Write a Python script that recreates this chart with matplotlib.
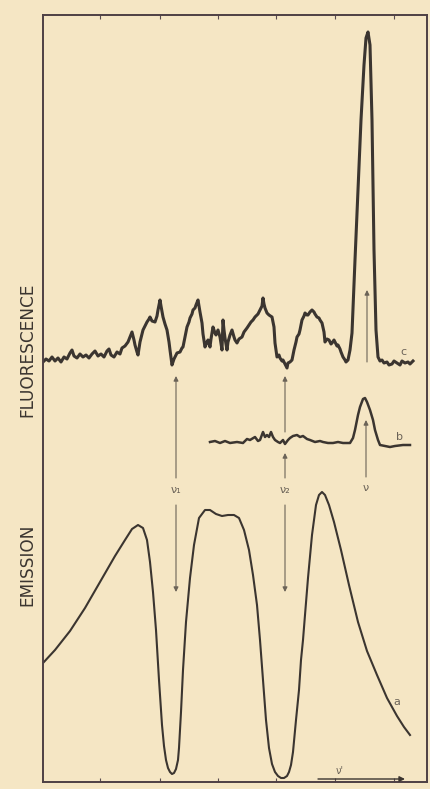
import matplotlib.pyplot as plt

# wavenumber axis (arbitrary units) and signal heights
c_x = [43, 46, 49, 52, 55, 58, 61, 64, 67, 70, 72, 74, 77, 80, 83, 86, 89, 92, 95, 98,
       101, 104, 107, 109, 111, 114, 117, 120, 122, 125, 128, 130, 132, 134, 135, 137,
       138, 140, 143, 145, 147, 149, 150, 152, 155, 157, 158, 160, 161, 163, 165, 167,
       169, 170, 172, 174, 175, 177, 180, 182, 183, 185, 187, 189, 190, 192, 193, 195,
       196, 198, 199, 200, 202, 203, 205, 207, 208, 210, 211, 213, 215, 216, 218, 220,
       222, 223, 224, 225, 227, 228, 230, 232, 234, 235, 237, 239, 242, 244, 247, 249,
       251, 253, 255, 258, 260, 262, 263, 264, 265, 267, 269, 272, 274, 275, 277, 279,
       280, 282, 283, 285, 287, 288, 290, 292, 294, 296, 297, 299, 300, 302, 304, 305,
       307, 308, 310, 312, 314, 315, 317, 319, 320, 322, 324, 325, 327, 329, 331, 332,
       334, 335, 337, 338, 340, 341, 343, 345, 346, 348, 350, 352, 355, 358, 361, 364,
       366, 368, 370, 372, 374, 376, 378, 380, 382, 384, 387, 389, 392, 394, 397, 400,
       402, 405, 408, 410, 413]
c_y = [420, 423, 421, 425, 421, 424, 420, 425, 423, 429, 432, 426, 424, 428, 425, 427,
       424, 428, 431, 426, 428, 425, 431, 433, 427, 425, 430, 428, 434, 436, 440, 445,
       450, 442, 437, 430, 427, 440, 452, 456, 460, 463, 465, 461, 460, 466, 472, 482,
       476, 465, 458, 452, 440, 432, 417, 423, 425, 429, 430, 434, 435, 445, 455, 460,
       464, 468, 472, 474, 477, 482, 476, 470, 459, 448, 435, 440, 442, 435, 443, 455,
       449, 447, 452, 445, 432, 462, 452, 444, 432, 440, 447, 452, 445, 442, 439, 443,
       445, 450, 454, 457, 460, 462, 465, 468, 472, 476, 484, 478, 474, 469, 467, 465,
       455, 439, 425, 427, 424, 421, 422, 418, 414, 419, 420, 422, 432, 440, 445, 448,
       452, 462, 466, 469, 467, 467, 470, 472, 470, 468, 465, 464, 462, 459, 450, 440,
       443, 442, 438, 439, 442, 440, 436, 437, 433, 430, 425, 422, 420, 422, 432, 449,
       522, 592, 662, 717, 744, 750, 737, 662, 532, 452, 425, 421, 422, 419, 420, 417,
       418, 421, 419, 417, 421, 419, 420, 418, 421]

b_x = [210, 215, 220, 225, 230, 237, 243, 247, 250, 255, 258, 260, 263, 265, 267, 269, 271,
       273, 275, 278, 280, 283, 285, 288, 290, 293, 297, 300, 303, 307, 310, 315, 320, 323,
       328, 333, 338, 343, 350, 353, 355, 358, 360, 363, 365, 367, 370, 373, 375, 378, 380,
       385, 390, 395, 403, 410]
b_y = [340, 341, 339, 341, 339, 340, 339, 343, 342, 345, 341, 342, 350, 345, 347, 345, 350,
       345, 342, 340, 339, 342, 338, 342, 344, 346, 347, 345, 346, 343, 342, 340, 341, 340,
       339, 339, 340, 339, 339, 344, 352, 367, 375, 383, 384, 380, 372, 362, 352, 342, 337,
       336, 335, 336, 337, 337]

a_x = [43, 55, 70, 85, 100, 115, 125, 132, 138, 143, 147, 150, 153, 156, 159, 162, 164,
       166, 168, 170, 172, 174, 176, 178, 179, 181, 183, 186, 190, 194, 199, 205, 210, 216,
       222, 228, 234, 239, 244, 249, 253, 257, 260, 263, 266, 269, 272, 275, 278, 281, 284,
       287, 289, 291, 293, 296, 299, 301, 303, 305, 308, 312, 316, 319, 322, 325, 329, 334,
       341, 349, 358, 367, 377, 387, 397, 404, 410]
a_y = [119, 132, 151, 174, 200, 226, 242, 253, 257, 254, 242, 220, 190, 152, 102, 57, 36,
       22, 14, 10, 8, 9, 13, 22, 34, 70, 112, 160, 204, 237, 264, 272, 272, 268,
       266, 267, 267, 264, 252, 232, 207, 177, 142, 102, 62, 34, 18, 10, 6, 4, 4,
       6, 10, 17, 30, 62, 92, 122, 142, 167, 204, 247, 277, 287, 290, 287, 277, 260,
       232, 197, 160, 131, 107, 84, 66, 55, 47]

# transition positions (nu1, nu2, nu)
nu_x = [176, 285, 366]
nu_labels = ['ν₁', 'ν₂', 'ν']
top_ticks = [100, 160, 218, 276, 335, 394]

paper = '#f5e6c4'
ink = '#3b3530'
thin = '#6b6358'

fig = plt.figure(figsize=(4.31, 7.89), dpi=100, facecolor=paper)
ax = fig.add_axes([43 / 431, 7 / 789, 384 / 431, 767 / 789], facecolor=paper)

ax.plot(c_x, c_y, color=ink, lw=2.2)
ax.plot(b_x, b_y, color=ink, lw=1.8)
ax.plot(a_x, a_y, color=ink, lw=1.5)

ax.text(403, 430, 'c', fontsize=8, color=thin, ha='center', va='center')
ax.text(400, 345, 'b', fontsize=8, color=thin, ha='center', va='center')
ax.text(397, 80, 'a', fontsize=8, color=thin, ha='center', va='center')

arr = dict(arrowstyle='-|>', color=thin, lw=0.8, mutation_scale=7, shrinkA=0, shrinkB=0)

# nu1 and nu2: up to trace c, down to the emission dips
for x, lab in zip(nu_x[:2], nu_labels[:2]):
    ax.text(x, 292, lab, fontsize=8, color=thin, ha='center', va='center')
    ax.annotate('', xy=(x, 190), xytext=(x, 277), arrowprops=arr)
ax.annotate('', xy=(nu_x[0], 406), xytext=(nu_x[0], 304), arrowprops=arr)
ax.annotate('', xy=(nu_x[1], 329), xytext=(nu_x[1], 304), arrowprops=arr)
ax.annotate('', xy=(nu_x[1], 406), xytext=(nu_x[1], 350), arrowprops=arr)

# nu: into peaks b and c
ax.text(nu_x[2], 294, nu_labels[2], fontsize=8, color=thin, ha='center', va='center')
ax.annotate('', xy=(nu_x[2], 362), xytext=(nu_x[2], 305), arrowprops=arr)
ax.annotate('', xy=(nu_x[2] + 1, 492), xytext=(nu_x[2] + 1, 420), arrowprops=arr)

# nu' direction arrow
ax.annotate('', xy=(405, 3), xytext=(318, 3),
            arrowprops=dict(arrowstyle='-|>', color=ink, lw=1.0, mutation_scale=8,
                            shrinkA=0, shrinkB=0))
ax.text(340, 11, "ν'", fontsize=7, color=thin, ha='center', va='center')

ax.set_xlim(43, 427)
ax.set_ylim(0, 767)
ax.set_xticks(top_ticks)
ax.set_yticks([])
ax.tick_params(axis='x', direction='in', length=3, width=0.8, colors='#5a4c50',
               top=True, labeltop=False, labelbottom=False)
for s in ax.spines.values():
    s.set_color('#4e4044')
    s.set_linewidth(1.4)

fig.text(27 / 431, 1 - 350 / 789, 'FLUORESCENCE', rotation=90, fontsize=12.2,
         color=ink, ha='center', va='center')
fig.text(27 / 431, 1 - 565 / 789, 'EMISSION', rotation=90, fontsize=12.2,
         color=ink, ha='center', va='center')

fig.savefig('out.png', dpi=100, facecolor=paper)
